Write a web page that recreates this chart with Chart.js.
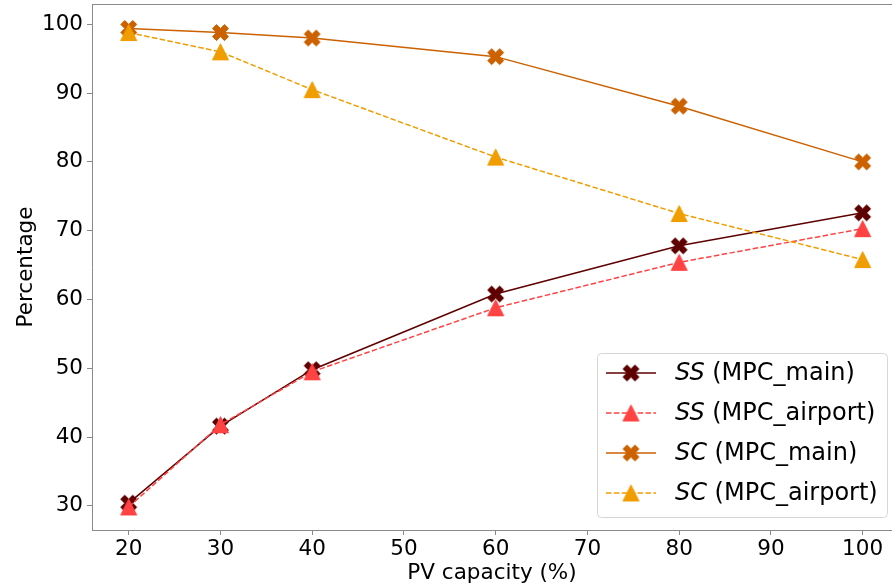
<!DOCTYPE html>
<html>
<head>
<meta charset="utf-8">
<script src="https://cdn.jsdelivr.net/npm/chart.js@4/dist/chart.umd.min.js"></script>
<style>
  html, body { margin: 0; padding: 0; background: #fff; overflow: hidden; }
  #wrap { width: 892px; height: 586px; position: relative; }
</style>
</head>
<body>
<div id="wrap"><canvas id="chart"></canvas></div>
<script>
// Values
const pvCapacity = [20, 30, 40, 60, 80, 100]
const ssMain = [30.4, 41.6, 49.8, 60.8, 67.8, 72.6]
const ssAirport = [29.85, 41.8, 49.5, 58.8, 65.4, 70.3]
const scMain = [99.4, 98.8, 98.0, 95.3, 88.1, 80.0]
const scAirport = [98.8, 96.0, 90.5, 80.7, 72.5, 65.8]

const xTicks = [20, 30, 40, 50, 60, 70, 80, 90, 100]
const yTicks = [30, 40, 50, 60, 70, 80, 90, 100]

const seriesLabels = [
  ["SS", " (MPC_main)"],
  ["SS", " (MPC_airport)"],
  ["SC", " (MPC_main)"],
  ["SC", " (MPC_airport)"],
]
const seriesColors = ["#5e0000", "#ff4343", "#cc6100", "#f09d00"]

const FONT = "'DejaVu Sans', sans-serif"
const AXIS_SIZE = 21.5
const LEGEND_SIZE = 24

// matplotlib-like filled "X" marker
function makeCross(color) {
  const size = 19
  const c = document.createElement("canvas")
  c.width = size
  c.height = size
  const g = c.getContext("2d")
  const pts = [[-1, -2], [0, -1], [1, -2], [2, -1], [1, 0], [2, 1], [1, 2], [0, 1], [-1, 2], [-2, 1], [-1, 0], [-2, -1]]
  const s = 16 / 4
  g.translate(size / 2, size / 2)
  g.beginPath()
  pts.forEach(([x, y], i) => (i ? g.lineTo(x * s, y * s) : g.moveTo(x * s, y * s)))
  g.closePath()
  g.fillStyle = color
  g.strokeStyle = color
  g.lineWidth = 1
  g.fill()
  g.stroke()
  return c
}

// matplotlib-like "^" marker
function makeTriangle(color) {
  const size = 19
  const c = document.createElement("canvas")
  c.width = size
  c.height = size
  const g = c.getContext("2d")
  g.translate(size / 2, size / 2)
  g.beginPath()
  g.moveTo(0, -8)
  g.lineTo(-8, 8)
  g.lineTo(8, 8)
  g.closePath()
  g.fillStyle = color
  g.strokeStyle = color
  g.lineWidth = 1
  g.fill()
  g.stroke()
  return c
}

const markers = [
  makeCross(seriesColors[0]),
  makeTriangle(seriesColors[1]),
  makeCross(seriesColors[2]),
  makeTriangle(seriesColors[3]),
]
const dashes = [[], [5.5, 2.4], [], [5.5, 2.4]]
const seriesValues = [ssMain, ssAirport, scMain, scAirport]

const datasets = seriesValues.map((vals, i) => ({
  label: seriesLabels[i].join(""),
  data: pvCapacity.map((x, j) => ({ x: x, y: vals[j] })),
  borderColor: seriesColors[i],
  backgroundColor: seriesColors[i],
  borderWidth: 1.5,
  borderDash: dashes[i],
  pointStyle: markers[i],
  pointRadius: 8,
  tension: 0,
  order: 4 - i,
}))

// legend drawn on the canvas so the SS / SC part can be italic
const legendPlugin = {
  id: "seriesLegend",
  afterDraw(chart) {
    const ctx = chart.ctx
    const area = chart.chartArea
    const w = 290
    const h = 164
    const x0 = area.right - 5 - w
    const y0 = area.bottom - 13 - h
    ctx.save()
    ctx.beginPath()
    ctx.roundRect(x0 + 0.5, y0 + 0.5, w, h, 4)
    ctx.fillStyle = "rgba(255,255,255,0.8)"
    ctx.fill()
    ctx.strokeStyle = "#d6d6d6"
    ctx.lineWidth = 1
    ctx.stroke()
    seriesLabels.forEach((parts, i) => {
      const cy = y0 + 20 + i * 40
      ctx.beginPath()
      ctx.setLineDash(dashes[i])
      ctx.strokeStyle = seriesColors[i]
      ctx.lineWidth = 1.5
      ctx.moveTo(x0 + 9, cy)
      ctx.lineTo(x0 + 59, cy)
      ctx.stroke()
      ctx.setLineDash([])
      const m = markers[i]
      ctx.drawImage(m, x0 + 34 - m.width / 2, cy - m.height / 2)
      ctx.fillStyle = "#000"
      ctx.textBaseline = "middle"
      ctx.textAlign = "left"
      ctx.font = "italic " + LEGEND_SIZE + "px " + FONT
      ctx.fillText(parts[0], x0 + 78, cy + 1)
      const wItal = ctx.measureText(parts[0]).width
      ctx.font = LEGEND_SIZE + "px " + FONT
      ctx.fillText(parts[1], x0 + 78 + wItal, cy + 1)
    })
    ctx.restore()
  },
}

// top spine of the axes box
const frameTopPlugin = {
  id: "frameTop",
  afterDraw(chart) {
    const ctx = chart.ctx
    const a = chart.chartArea
    ctx.save()
    ctx.strokeStyle = "#8a8a8a"
    ctx.lineWidth = 1
    ctx.beginPath()
    ctx.moveTo(a.left, a.top + 0.5)
    ctx.lineTo(a.right, a.top + 0.5)
    ctx.stroke()
    ctx.restore()
  },
}

function createChart() {
  const ctx = document.getElementById("chart").getContext("2d")
  new Chart(ctx, {
    type: "line",
    data: { datasets: datasets },
    options: {
      responsive: true,
      maintainAspectRatio: false,
      animation: false,
      layout: { autoPadding: false, padding: { top: 4, right: 0, left: 0, bottom: 0 } },
      plugins: {
        legend: { display: false },
        tooltip: { enabled: false },
      },
      scales: {
        x: {
          type: "linear",
          min: 16,
          max: 103.2,
          afterBuildTicks: (scale) => {
            scale.ticks = xTicks.map((v) => ({ value: v }))
          },
          afterFit: (scale) => {
            scale.height = 56
            scale.paddingLeft = 0
            scale.paddingRight = 0
          },
          ticks: {
            color: "#000",
            padding: 2,
            maxRotation: 0,
            autoSkip: false,
            font: { family: FONT, size: AXIS_SIZE },
          },
          grid: { drawOnChartArea: false, drawTicks: true, tickLength: 5, color: "#8a8a8a" },
          border: { color: "#8a8a8a", width: 1 },
          title: {
            display: true,
            text: "PV capacity (%)",
            color: "#000",
            font: { family: FONT, size: AXIS_SIZE },
            padding: { top: 0, bottom: 0 },
          },
        },
        y: {
          type: "linear",
          min: 26.5,
          max: 102.95,
          afterBuildTicks: (scale) => {
            scale.ticks = yTicks.map((v) => ({ value: v }))
          },
          afterFit: (scale) => {
            scale.width = 92
            scale.paddingTop = 0
            scale.paddingBottom = 0
          },
          ticks: {
            color: "#000",
            padding: 4,
            autoSkip: false,
            font: { family: FONT, size: AXIS_SIZE },
          },
          grid: { drawOnChartArea: false, drawTicks: true, tickLength: 5, color: "#8a8a8a" },
          border: { color: "#8a8a8a", width: 1 },
          title: {
            display: true,
            text: "Percentage",
            color: "#000",
            font: { family: FONT, size: AXIS_SIZE },
            padding: { top: 14, bottom: 0 },
          },
        },
      },
    },
    plugins: [legendPlugin, frameTopPlugin],
  })
}

document.addEventListener("DOMContentLoaded", () => {
  createChart()
})
</script>
</body>
</html>
